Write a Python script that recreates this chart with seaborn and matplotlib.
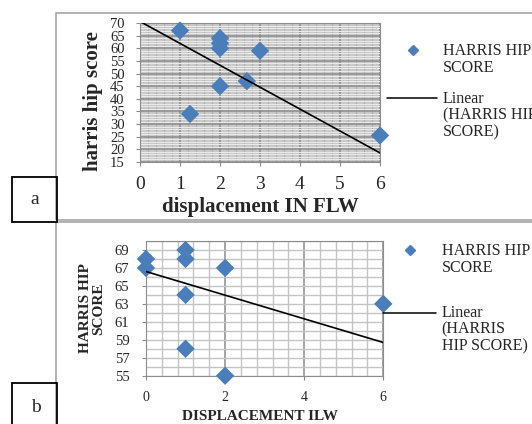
"""
Two stacked Excel-style scatter charts: harris hip score vs displacement.
"""

import matplotlib
matplotlib.use("Agg")
import matplotlib.pyplot as plt
from matplotlib.lines import Line2D
from matplotlib.patches import Rectangle
from matplotlib.ticker import MultipleLocator
import seaborn as sns

# panel a data (displacement IN FLW)
disp_flw = [1, 1.25, 2, 2, 2, 2, 2.67, 3, 6]
score_flw = [67, 34, 64, 62, 60, 45, 47, 59, 25.5]
trend_flw_x = [0, 6]
trend_flw_y = [70.6, 18.6]
xticks_a = [0, 1, 2, 3, 4, 5, 6]
yticks_a = [15, 20, 25, 30, 35, 40, 45, 50, 55, 60, 65, 70]

# panel b data (displacement ILW)
disp_ilw = [0, 0, 1, 1, 1, 1, 2, 2, 6]
score_ilw = [68, 67, 69, 68, 64, 58, 67, 55, 63]
trend_ilw_x = [0, 6]
trend_ilw_y = [66.6, 58.7]
xticks_b = [0, 2, 4, 6]
yticks_b = [55, 57, 59, 61, 63, 65, 67, 69]

BLUE = "#4a7ebb"
SERIES = "HARRIS HIP\nSCORE"
W, H = 532, 424

sns.set_style("white")
plt.rcParams["font.family"] = ["Liberation Serif", "DejaVu Serif"]


def fx(px):
    return px / W


def fy(py):
    return 1 - py / H


def add_axes_px(fig, left, top, right, bottom):
    return fig.add_axes([fx(left), fy(bottom), (right - left) / W, (bottom - top) / H])


fig = plt.figure(figsize=(W / 100, H / 100), dpi=100)

# outer chart frames and panel tags
frame_kw = dict(transform=fig.transFigure, fill=False, clip_on=False)
fig.add_artist(Rectangle((fx(56), fy(219.5)), (W + 10 - 56) / W, (219.5 - 13) / H,
                         edgecolor="#a6a6a6", lw=1.2, **frame_kw))
fig.add_artist(Rectangle((fx(56), fy(H + 10)), (W + 10 - 56) / W, (H + 10 - 222) / H,
                         edgecolor="#a6a6a6", lw=1.2, **frame_kw))
fig.add_artist(Rectangle((fx(12), fy(221.5)), 45 / W, 44.5 / H,
                         edgecolor="black", lw=1.3, **frame_kw))
fig.add_artist(Rectangle((fx(12), fy(H + 10)), 45 / W, (H + 10 - 383) / H,
                         edgecolor="black", lw=1.3, **frame_kw))
fig.text(fx(34.5), fy(199), "a", fontsize=14, ha="center", va="center")
fig.text(fx(35.5), fy(408), "b", fontsize=14, ha="center", va="center")

# ---------------- panel a ----------------
ax = add_axes_px(fig, 140, 23, 380, 162)
ax.set_facecolor("#c9c9c9")
sns.scatterplot(x=disp_flw, y=score_flw, marker="D", s=88, color=BLUE,
                edgecolor="none", ax=ax, zorder=3, clip_on=False, legend=False)
sns.lineplot(x=trend_flw_x, y=trend_flw_y, color="black", lw=1.2, ax=ax, zorder=4)
ax.set_xlim(0, 6)
ax.set_ylim(15, 70)
ax.set_xticks(xticks_a)
ax.set_yticks(yticks_a)
ax.xaxis.set_minor_locator(MultipleLocator(0.2))
ax.yaxis.set_minor_locator(MultipleLocator(1))
ax.grid(which="minor", axis="y", color="#ececec", lw=0.7)
ax.grid(which="minor", axis="x", color="#b0b0b0", lw=0.8)
ax.grid(which="major", color="#8c8c8c", lw=1.1)
ax.set_axisbelow(True)
ax.tick_params(which="major", direction="out", length=3, color="#8c8c8c",
               left=True, bottom=True)
ax.tick_params(axis="x", labelsize=14, pad=7)
ax.tick_params(axis="y", labelsize=10.5, pad=8)
ax.tick_params(which="minor", length=0)
for sp in ax.spines.values():
    sp.set_color("#8c8c8c")
ax.set_xlabel("displacement IN FLW", fontsize=15, fontweight="bold", va="top")
ax.xaxis.set_label_coords(0.5, -0.25)
ax.set_ylabel("harris hip score", fontsize=15, fontweight="bold")
ax.yaxis.set_label_coords(-0.155, 0.435)

# legend a
fig.add_artist(Line2D([fx(413)], [fy(50)], marker="D", ms=4.6, color=BLUE,
                      lw=0, transform=fig.transFigure))
fig.add_artist(Line2D([fx(387), fx(437)], [fy(98), fy(98)], color="black", lw=1.1,
                      transform=fig.transFigure))
fig.text(fx(443), fy(43), SERIES, fontsize=11.5, va="top", linespacing=1.05)
fig.text(fx(443), fy(91), "Linear\n(HARRIS HIP\nSCORE)", fontsize=11.5, va="top",
         linespacing=1.05)

# ---------------- panel b ----------------
bx = add_axes_px(fig, 146, 241, 383.3, 375.7)
bx.set_facecolor("white")
sns.scatterplot(x=disp_ilw, y=score_ilw, marker="D", s=88, color=BLUE,
                edgecolor="none", ax=bx, zorder=3, clip_on=False, legend=False)
sns.lineplot(x=trend_ilw_x, y=trend_ilw_y, color="black", lw=1.2, ax=bx, zorder=4)
bx.set_xlim(0, 6)
bx.set_ylim(55, 70)
bx.set_xticks(xticks_b)
bx.set_yticks(yticks_b)
bx.xaxis.set_minor_locator(MultipleLocator(0.4))
bx.yaxis.set_minor_locator(MultipleLocator(1))
bx.grid(which="minor", color="#c4c4c4", lw=1.0)
bx.grid(which="major", axis="y", color="#c4c4c4", lw=1.0)
bx.grid(which="major", axis="x", color="#8c8c8c", lw=1.1)
bx.set_axisbelow(True)
bx.tick_params(which="major", direction="out", length=3, color="#8c8c8c",
               left=True, bottom=True)
bx.tick_params(axis="x", labelsize=10, pad=8)
bx.tick_params(axis="y", labelsize=10.5, pad=9)
bx.tick_params(which="minor", length=0)
for sp in bx.spines.values():
    sp.set_color("#8c8c8c")
bx.set_xlabel("DISPLACEMENT ILW", fontsize=11, fontweight="bold", va="top")
bx.xaxis.set_label_coords(0.48, -0.252)
bx.set_ylabel(SERIES, fontsize=11, fontweight="bold", linespacing=1.0)
bx.yaxis.set_label_coords(-0.172, 0.5)

# legend b
fig.add_artist(Line2D([fx(410)], [fy(250)], marker="D", ms=4.6, color=BLUE,
                      lw=0, transform=fig.transFigure))
fig.add_artist(Line2D([fx(383), fx(436)], [fy(312.5), fy(312.5)], color="black",
                      lw=1.1, transform=fig.transFigure))
fig.text(fx(441.5), fy(243), SERIES, fontsize=11.5, va="top", linespacing=1.05)
fig.text(fx(441.5), fy(305), "Linear\n(HARRIS\nHIP SCORE)", fontsize=11.5, va="top",
         linespacing=1.05)

fig.savefig("out.png", dpi=100)
plt.close(fig)
